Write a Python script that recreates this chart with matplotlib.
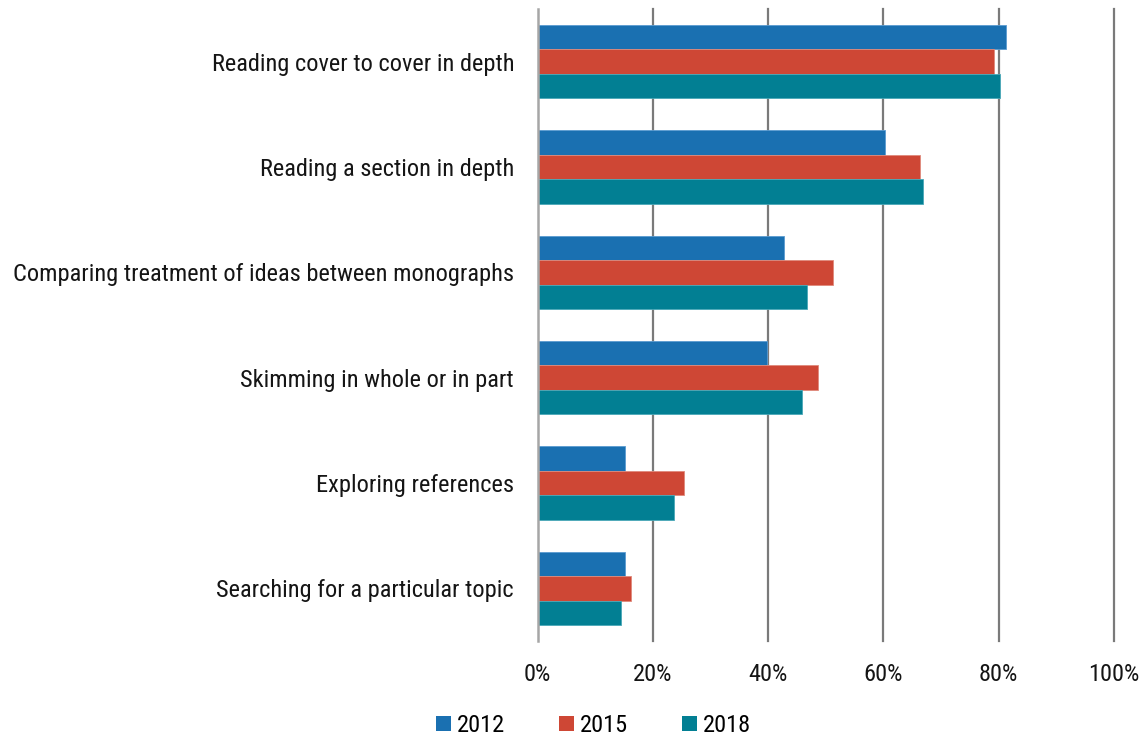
import matplotlib
matplotlib.use("Agg")
import matplotlib.pyplot as plt
import numpy as np
from matplotlib import font_manager

categories = [
    "Reading cover to cover in depth",
    "Reading a section in depth",
    "Comparing treatment of ideas between monographs",
    "Skimming in whole or in part",
    "Exploring references",
    "Searching for a particular topic",
]
series_names = ["2012", "2015", "2018"]
v2012 = [81.3, 60.3, 42.7, 39.8, 15.1, 15.1]
v2015 = [79.1, 66.3, 51.3, 48.7, 25.3, 16.2]
v2018 = [80.2, 66.8, 46.7, 45.9, 23.6, 14.4]
xticks = [0, 20, 40, 60, 80, 100]
xtick_labels = ["0%", "20%", "40%", "60%", "80%", "100%"]

colors = ["#1A70B1", "#CE4735", "#027F93"]
edges = ["#5a9bd0", "#e08a7c", "#4aa8b8"]

names = {f.name for f in font_manager.fontManager.ttflist}
fam = "Roboto Condensed" if "Roboto Condensed" in names else "DejaVu Sans"
plt.rcParams["font.family"] = [fam, "DejaVu Sans"]
FS = 17.6

fig = plt.figure(figsize=(11.46, 7.41), dpi=100)
ax = fig.add_axes([0.4692, 0.1350, 0.5029, 0.8529])

n = len(categories)
y = np.arange(n)
bh = 0.232
for i, (vals, c, e, nm) in enumerate(zip([v2012, v2015, v2018], colors, edges, series_names)):
    ax.barh(y + (i - 1) * bh, vals, height=bh, color=c, edgecolor=e, linewidth=0.6,
            label=nm, zorder=3)

ax.set_ylim(n - 0.5, -0.5)
ax.set_xlim(0, 100)
ax.set_yticks(y)
ax.set_yticklabels(categories, fontsize=FS, color="#151515")
ax.set_xticks(xticks)
ax.set_xticklabels(xtick_labels, fontsize=FS, color="#151515")
ax.tick_params(axis="y", length=0, pad=17)
ax.tick_params(axis="x", length=0, pad=16)
for s in ax.spines.values():
    s.set_visible(False)
for xv in xticks[1:]:
    ax.axvline(xv, color="#7a7a7a", linewidth=1.6, zorder=1, clip_on=False)
ax.axvline(0, color="#a6a6a6", linewidth=1.8, zorder=4, clip_on=False)

leg = fig.legend(loc="center", bbox_to_anchor=(0.518, 0.0205), ncol=3, frameon=False,
                 fontsize=FS, handlelength=0.6, handleheight=0.6, handletextpad=0.25,
                 columnspacing=2.2, borderaxespad=0)
for h in leg.legend_handles:
    h.set_edgecolor("none")

fig.savefig("out.png", dpi=100)
